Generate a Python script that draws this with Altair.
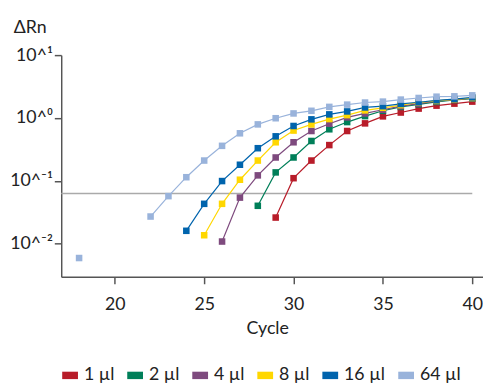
import altair as alt
import pandas as pd

# ---- data ----
series_names = ["1 µl", "2 µl", "4 µl", "8 µl", "16 µl", "64 µl"]
series_colors = ["#b81c29", "#007f59", "#7e4a7e", "#ffd700", "#0064ad", "#99b3db"]

cycles_1 = list(range(29, 41))
values_1 = [0.026, 0.11, 0.21, 0.37, 0.62, 0.82, 1.06, 1.22, 1.41, 1.57, 1.69, 1.82]

cycles_2 = list(range(28, 41))
values_2 = [0.040, 0.136, 0.235, 0.43, 0.66, 0.86, 1.07, 1.30, 1.50, 1.65, 1.80, 1.93, 2.03]

cycles_4 = list(range(26, 41))
values_4 = [0.0108, 0.054, 0.122, 0.235, 0.41, 0.62, 0.81, 1.02, 1.18, 1.35, 1.54, 1.69, 1.85, 1.96, 2.06]

cycles_8 = list(range(25, 41))
values_8 = [0.0136, 0.043, 0.104, 0.21, 0.41, 0.63, 0.79, 0.96, 1.11, 1.32, 1.45, 1.60, 1.76, 1.87, 1.98, 2.08]

cycles_16 = list(range(24, 41))
values_16 = [0.016, 0.043, 0.099, 0.18, 0.33, 0.51, 0.745, 0.95, 1.14, 1.27, 1.47, 1.54, 1.67, 1.78, 1.91, 2.0, 2.13]

cycles_64 = [18] + list(range(22, 41))
values_64 = [0.0059, 0.027, 0.057, 0.114, 0.21, 0.36, 0.57, 0.79, 0.99, 1.18, 1.30, 1.50, 1.63, 1.76, 1.82,
             1.96, 2.08, 2.18, 2.21, 2.29]

threshold = 0.063
threshold_start = 17
threshold_end = 40

x_domain = [17, 40.6]
x_ticks = [20, 25, 30, 35, 40]
y_domain = [0.00296, 10]
y_ticks = [0.01, 0.1, 1, 10]
y_tick_labels = ["10^⁻²", "10^⁻¹", "10^⁰", "10^¹"]

# ---- build table ----
rows = []
all_series = [(cycles_1, values_1), (cycles_2, values_2), (cycles_4, values_4),
              (cycles_8, values_8), (cycles_16, values_16), (cycles_64, values_64)]
for order, (name, (cs, vs)) in enumerate(zip(series_names, all_series)):
    seg = 0
    prev = None
    for c, v in zip(cs, vs):
        if prev is not None and c - prev > 1:
            seg += 1
        prev = c
        rows.append({"cycle": c, "value": v, "series": name, "seg": f"{name}-{seg}", "order": order})
df = pd.DataFrame(rows)

thr_df = pd.DataFrame({"x": [threshold_start], "x2": [threshold_end], "y": [threshold]})

# label expression from tick lists
expr = "''"
for val, lab in zip(y_ticks, y_tick_labels):
    expr = f"(abs(log(datum.value) - log({val})) < 0.1 ? '{lab}' : {expr})"

FONT = "Lato"
TXT = "#222222"

x_enc = alt.X("cycle:Q", scale=alt.Scale(domain=x_domain, nice=False, zero=False),
              axis=alt.Axis(values=x_ticks, title="Cycle", grid=False, tickSize=7, labelPadding=12,
                            titleX=209, titleY=57, titleBaseline="alphabetic", titleAlign="center"))
y_enc = alt.Y("value:Q", scale=alt.Scale(type="log", domain=y_domain, nice=False),
              axis=alt.Axis(values=y_ticks, labelExpr=expr, title="ΔRn", grid=False, tickSize=7,
                            labelPadding=2, titleAngle=0, titleX=-32, titleY=-23,
                            titleAlign="center", titleBaseline="alphabetic"))

color_enc = alt.Color(
    "series:N",
    scale=alt.Scale(domain=series_names, range=series_colors),
    legend=alt.Legend(title=None, orient="none", legendX=0, legendY=316,
                      direction="horizontal", columns=6,
                      symbolType="M-1,-0.47H1V0.47H-1Z", symbolSize=256,
                      symbolStrokeWidth=0, symbolOpacity=1,
                      labelFontSize=18, labelFont=FONT, labelColor=TXT,
                      labelOffset=5, columnPadding=12),
)

threshold_rule = alt.Chart(thr_df).mark_rule(color="#aaaaaa", strokeWidth=1.5).encode(
    x="x:Q", x2="x2:Q", y="y:Q")

lines = alt.Chart(df).mark_line(strokeWidth=1.2).encode(
    x=x_enc, y=y_enc, color=color_enc, detail="seg:N", order="cycle:Q",
)

points = alt.Chart(df).mark_point(shape="square", filled=True, size=44, opacity=1).encode(
    x=x_enc, y=y_enc, color=color_enc, order="order:Q",
)

chart = alt.layer(threshold_rule, lines, points).properties(
    width=428, height=225,
    autosize=alt.AutoSizeParams(type="none"),
    padding={"left": 54, "top": 45, "right": 0, "bottom": 112},
).configure_view(stroke=None).configure_axis(
    labelFont=FONT, titleFont=FONT, labelFontSize=18, titleFontSize=18,
    labelColor=TXT, titleColor=TXT, titleFontWeight="normal",
    domainColor="#555555", tickColor="#555555", domainWidth=1.5, tickWidth=1.5,
)

chart.save("out.html", embed_options={"renderer": "svg", "actions": False})
